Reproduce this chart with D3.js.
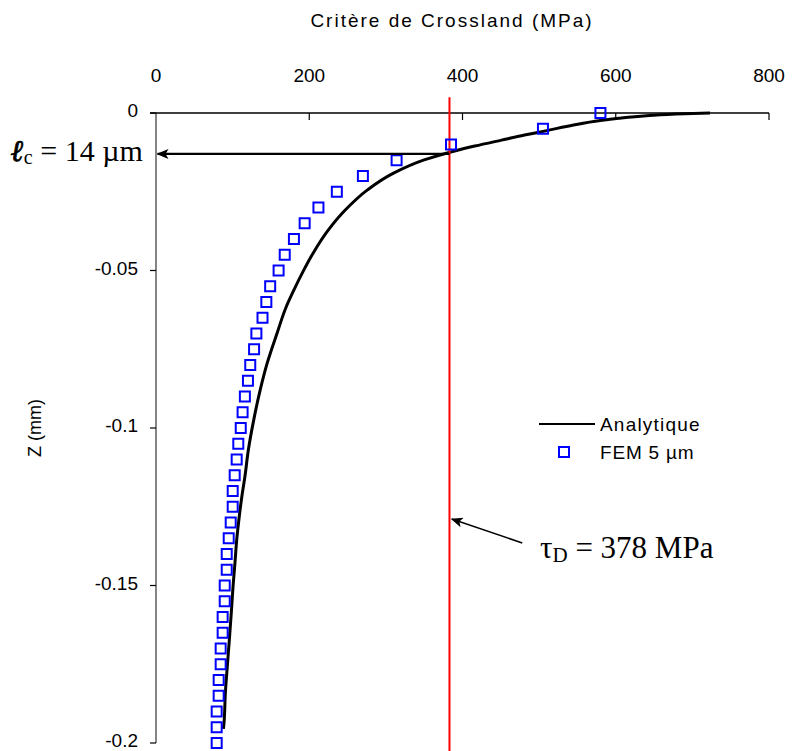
<!DOCTYPE html>
<html>
<head>
<meta charset="utf-8">
<script src="https://cdn.jsdelivr.net/npm/d3@7"></script>
<style>
  html, body { margin: 0; padding: 0; background: #fff; }
  svg { display: block; }
  .sans { font-family: "Liberation Sans", Arial, sans-serif; }
  .serif { font-family: "Liberation Serif", "Times New Roman", serif; }
</style>
</head>
<body>
<svg id="chart" width="793" height="751"></svg>
<script>
// ---------- data ----------
const xTicks = [0, 200, 400, 600, 800];
const yTicks = [0, -0.05, -0.1, -0.15, -0.2];
const yTickLabels = ["0", "-0.05", "-0.1", "-0.15", "-0.2"];

// Analytical curve (depth mm, Crossland criterion MPa)
const anaZ = [0, -0.0002, -0.0009, -0.0017, -0.0024, -0.0038, -0.0056, -0.007, -0.0086, -0.0105,
              -0.0123, -0.0149, -0.0191, -0.0244, -0.0308, -0.0371, -0.0445, -0.0498, -0.0572, -0.0615,
              -0.0699, -0.0795, -0.0879, -0.0975, -0.107, -0.1155, -0.1218, -0.128, -0.1356, -0.143,
              -0.1504, -0.1578, -0.1673, -0.1758, -0.1842, -0.1938, -0.1955];
const anaV = [723, 690, 640, 604, 580, 545, 510, 481, 451, 416,
              386, 350, 310, 276, 247, 225, 205, 193, 178, 170,
              158, 145, 136, 127.5, 120.5, 116, 112, 108.7, 105.3, 103,
              100.5, 98.5, 95.7, 93, 90.5, 88.7, 88];

// FEM 5 µm points
const femZ = [0, -0.005, -0.01, -0.015, -0.02, -0.025, -0.03, -0.035, -0.04, -0.045,
              -0.05, -0.055, -0.06, -0.065, -0.07, -0.075, -0.08, -0.085, -0.09, -0.095,
              -0.1, -0.105, -0.11, -0.115, -0.12, -0.125, -0.13, -0.135, -0.14, -0.145,
              -0.15, -0.155, -0.16, -0.165, -0.17, -0.175, -0.18, -0.185, -0.19, -0.195, -0.2];
const femV = [580, 505, 385, 314, 270, 236, 212, 194, 180, 168,
              160, 149, 144, 139, 131, 128, 123, 120, 116, 113,
              110.6, 107.4, 105.3, 102.7, 100.1, 100.1, 97.5, 94.9, 92.3, 92.3,
              89.7, 89.7, 87, 87, 84.4, 84.4, 81.8, 81.8, 79.2, 79.2, 79.2];

const tauD = 383;           // red vertical line position (MPa)
const tauZ = [0.005, -0.205];
const lcZ = -0.013;         // critical depth arrow
const arrowTail = {v: 478, z: -0.1365};
const arrowTip = {v: 386, z: -0.1289};

// ---------- drawing ----------
const svg = d3.select("#chart");
const x = d3.scaleLinear().domain([0, 800]).range([156, 769]);
const y = d3.scaleLinear().domain([-0.2, 0]).range([743, 113]);
const FS = 19;

svg.append("defs").append("marker")
  .attr("id", "arrowhead").attr("viewBox", "0 0 12 10")
  .attr("refX", 11).attr("refY", 5)
  .attr("markerWidth", 12).attr("markerHeight", 10)
  .attr("markerUnits", "userSpaceOnUse")
  .attr("orient", "auto")
  .append("path").attr("d", "M0,0 L12,5 L0,10 L3,5 Z").attr("fill", "#000");

// title
svg.append("text").attr("class", "sans")
  .attr("x", 452).attr("y", 27).attr("text-anchor", "middle")
  .attr("font-size", FS).attr("letter-spacing", 2).attr("fill", "#000")
  .text("Critère de Crossland (MPa)");

// y axis (gray line)
svg.append("line")
  .attr("x1", x(0)).attr("x2", x(0)).attr("y1", y(0)).attr("y2", y(-0.2))
  .attr("stroke", "#858585").attr("stroke-width", 2);
// y ticks
svg.selectAll(".ytick").data(yTicks).enter().append("line")
  .attr("x1", x(0) - 6).attr("x2", x(0)).attr("y1", d => y(d)).attr("y2", d => y(d))
  .attr("stroke", "#000").attr("stroke-width", 1.2);
svg.selectAll(".ylab").data(yTicks).enter().append("text").attr("class", "sans")
  .attr("x", 138).attr("y", d => y(d)).attr("dy", "0.22em")
  .attr("text-anchor", "end").attr("font-size", FS).attr("fill", "#000")
  .text((d, i) => yTickLabels[i]);
svg.append("text").attr("class", "sans")
  .attr("transform", `translate(41,${y(-0.1)}) rotate(-90)`)
  .attr("text-anchor", "middle").attr("font-size", FS - 1).attr("fill", "#000")
  .text("Z (mm)");

// x axis (top)
svg.append("line")
  .attr("x1", x(0) - 6).attr("x2", x(800)).attr("y1", y(0)).attr("y2", y(0))
  .attr("stroke", "#000").attr("stroke-width", 1.5);
svg.selectAll(".xtick").data(xTicks.slice(1)).enter().append("line")
  .attr("x1", d => x(d)).attr("x2", d => x(d)).attr("y1", y(0)).attr("y2", y(0) + 7)
  .attr("stroke", "#000").attr("stroke-width", 1.2);
svg.selectAll(".xlab").data(xTicks).enter().append("text").attr("class", "sans")
  .attr("x", d => x(d)).attr("y", 82).attr("text-anchor", "middle")
  .attr("font-size", FS).attr("fill", "#000")
  .text(d => d);

// analytical curve
const anaData = anaZ.map((z, i) => ({z, v: anaV[i]}));
svg.append("path").datum(anaData)
  .attr("fill", "none").attr("stroke", "#000").attr("stroke-width", 3)
  .attr("d", d3.line().x(d => x(d.v)).y(d => y(d.z)).curve(d3.curveMonotoneY));

// red line
svg.append("line")
  .attr("x1", x(tauD)).attr("x2", x(tauD)).attr("y1", y(tauZ[0])).attr("y2", y(tauZ[1]))
  .attr("stroke", "#ff0000").attr("stroke-width", 2);

// FEM markers
const femData = femZ.map((z, i) => ({z, v: femV[i]}));
svg.selectAll(".fem").data(femData).enter().append("rect")
  .attr("x", d => x(d.v) - 5).attr("y", d => y(d.z) - 5)
  .attr("width", 10).attr("height", 10)
  .attr("fill", "none").attr("stroke", "#0000ff").attr("stroke-width", 2);

// horizontal arrow (critical depth)
svg.append("line")
  .attr("x1", x(tauD)).attr("x2", x(2)).attr("y1", y(lcZ)).attr("y2", y(lcZ))
  .attr("stroke", "#000").attr("stroke-width", 2.2)
  .attr("marker-end", "url(#arrowhead)");

// diagonal arrow to red line
svg.append("line")
  .attr("x1", x(arrowTail.v)).attr("y1", y(arrowTail.z))
  .attr("x2", x(arrowTip.v)).attr("y2", y(arrowTip.z))
  .attr("stroke", "#000").attr("stroke-width", 1.5)
  .attr("marker-end", "url(#arrowhead)");

// annotations
const lc = svg.append("text").attr("class", "serif")
  .attr("x", 11).attr("y", 161).attr("font-size", 30).attr("fill", "#000");
lc.append("tspan").attr("font-family", "'DejaVu Serif', serif").attr("font-style", "italic")
  .attr("font-weight", "bold").attr("stroke", "#000").attr("stroke-width", 0.8).text("ℓ");
lc.append("tspan").attr("font-size", 20).attr("dy", 3).text("c");
lc.append("tspan").attr("dy", -3).text(" = 14 µm");

const td = svg.append("text").attr("class", "serif")
  .attr("x", 540).attr("y", 558).attr("font-size", 31).attr("fill", "#000");
td.append("tspan").text("τ");
td.append("tspan").attr("font-size", 21).attr("dy", 4).text("D");
td.append("tspan").attr("dy", -4).text(" = 378 MPa");

// legend
svg.append("line").attr("x1", 539).attr("x2", 595).attr("y1", 424).attr("y2", 424)
  .attr("stroke", "#000").attr("stroke-width", 2);
svg.append("text").attr("class", "sans").attr("x", 600).attr("y", 424).attr("dy", "0.36em")
  .attr("font-size", FS).attr("letter-spacing", 1.2).attr("fill", "#000").text("Analytique");
svg.append("rect").attr("x", 564 - 5).attr("y", 452 - 5).attr("width", 10).attr("height", 10)
  .attr("fill", "none").attr("stroke", "#0000ff").attr("stroke-width", 2);
svg.append("text").attr("class", "sans").attr("x", 600).attr("y", 452).attr("dy", "0.36em")
  .attr("font-size", FS).attr("letter-spacing", 0.8).attr("fill", "#000").text("FEM 5 µm");
</script>
</body>
</html>
